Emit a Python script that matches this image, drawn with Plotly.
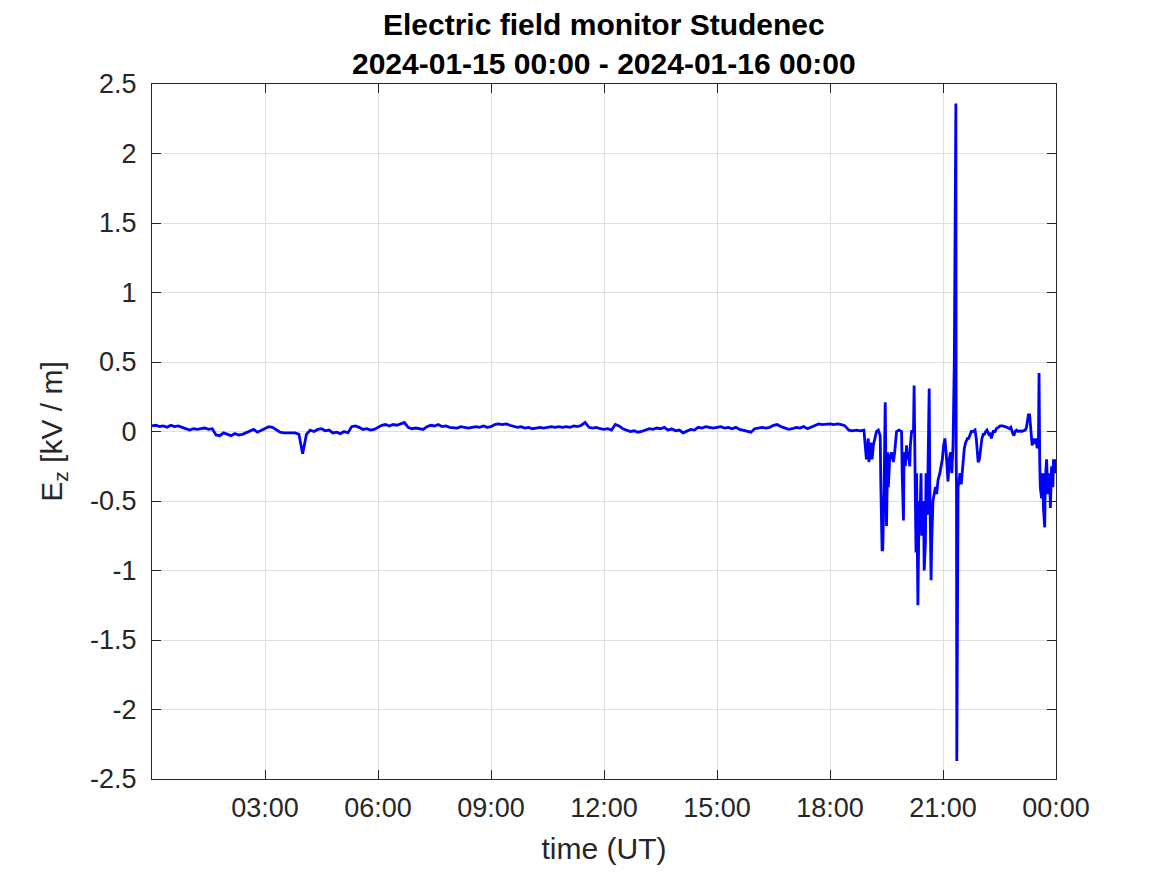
import plotly.graph_objects as go
import pandas as pd

# ---- data ----
day_start = "2024-01-15 00:00"
day_end = "2024-01-16 00:00"

# quiet period, one value every 6 minutes from 00:00 to 18:54 (kV/m)
quiet_values = [
    0.04, 0.045, 0.035, 0.04, 0.03, 0.045, 0.035, 0.04, 0.03, 0.02,
    0.01, 0.02, 0.015, 0.02, 0.025, 0.015, 0.02, -0.025, -0.03, -0.01,
    -0.02, -0.03, -0.015, -0.025, -0.02, -0.01, 0.0, 0.015, -0.005, 0.01,
    0.02, 0.035, 0.03, 0.01, -0.005, -0.01, -0.01, -0.005, -0.01, -0.02,
    -0.16, -0.02, 0.01, 0.0, 0.015, 0.02, 0.005, 0.01, -0.01, -0.005,
    -0.015, 0.0, -0.01, 0.035, 0.04, 0.03, 0.015, 0.02, 0.01, 0.015,
    0.03, 0.045, 0.05, 0.04, 0.05, 0.045, 0.055, 0.065, 0.03, 0.02,
    0.025, 0.02, 0.015, 0.035, 0.045, 0.04, 0.05, 0.035, 0.04, 0.03,
    0.03, 0.025, 0.035, 0.03, 0.025, 0.03, 0.035, 0.03, 0.04, 0.03,
    0.035, 0.05, 0.055, 0.05, 0.055, 0.045, 0.04, 0.03, 0.035, 0.025,
    0.03, 0.02, 0.025, 0.03, 0.025, 0.03, 0.035, 0.03, 0.035, 0.03,
    0.035, 0.03, 0.04, 0.035, 0.045, 0.065, 0.03, 0.025, 0.03, 0.02,
    0.015, 0.02, 0.01, 0.05, 0.04, 0.02, 0.01, 0.0, 0.005, -0.005,
    0.0, 0.01, 0.02, 0.015, 0.025, 0.02, 0.03, 0.01, 0.02, 0.005,
    0.01, -0.01, 0.005, 0.015, 0.01, 0.03, 0.025, 0.035, 0.03, 0.025,
    0.03, 0.035, 0.025, 0.03, 0.02, 0.03, 0.015, 0.01, 0.005, -0.005,
    0.02, 0.025, 0.03, 0.025, 0.03, 0.045, 0.05, 0.035, 0.025, 0.015,
    0.02, 0.03, 0.025, 0.035, 0.02, 0.03, 0.045, 0.055, 0.05, 0.055,
    0.055, 0.05, 0.055, 0.05, 0.04, 0.01, 0.005, 0.01, 0.005, 0.01,
]
quiet_step_minutes = 6

# disturbed period (time of day, kV/m)
active_times = [
    "18:58:00", "19:01:00", "19:02:00", "19:05:00", "19:07:00", "19:09:00", "19:12:00", "19:14:00",
    "19:17:00", "19:20:00", "19:21:00", "19:23:00", "19:24:00", "19:26:00", "19:28:00", "19:30:00",
    "19:32:00", "19:33:00", "19:35:00", "19:38:00", "19:41:00", "19:43:00", "19:46:00", "19:50:00",
    "19:54:00", "19:55:00", "19:57:00", "19:58:00", "20:00:00", "20:02:00", "20:04:00", "20:05:00",
    "20:07:00", "20:08:00", "20:10:00", "20:13:00", "20:14:00", "20:16:00", "20:17:00", "20:18:00",
    "20:20:00", "20:22:00", "20:23:00", "20:25:00", "20:26:00", "20:29:00", "20:30:00", "20:32:00",
    "20:33:00", "20:35:00", "20:36:00", "20:38:00", "20:39:00", "20:41:00", "20:42:00", "20:44:00",
    "20:46:00", "20:48:00", "20:50:00", "20:52:00", "20:55:00", "20:57:00", "20:59:00", "21:01:00",
    "21:03:00", "21:05:00", "21:07:00", "21:08:00", "21:10:00", "21:12:00", "21:14:00", "21:16:00",
    "21:18:00", "21:19:00", "21:19:30", "21:20:30", "21:21:00", "21:21:30", "21:22:00", "21:23:00",
    "21:24:00", "21:26:00", "21:27:00", "21:29:00", "21:31:00", "21:32:00", "21:34:00", "21:36:00",
    "21:39:00", "21:41:00", "21:43:00", "21:45:00", "21:48:00", "21:51:00", "21:53:00", "21:56:00",
    "21:58:00", "22:00:00", "22:02:00", "22:04:00", "22:06:00", "22:08:00", "22:10:00", "22:13:00",
    "22:15:00", "22:17:00", "22:20:00", "22:23:00", "22:25:00", "22:28:00", "22:31:00", "22:35:00",
    "22:39:00", "22:42:00", "22:46:00", "22:48:00", "22:51:00", "22:53:00", "22:55:00", "22:57:00",
    "23:00:00", "23:03:00", "23:05:00", "23:08:00", "23:11:00", "23:13:00", "23:15:00", "23:16:00",
    "23:18:00", "23:20:00", "23:22:00", "23:24:00", "23:26:00", "23:28:00", "23:30:00", "23:32:00",
    "23:33:00", "23:34:00", "23:35:00", "23:37:00", "23:39:00", "23:40:00", "23:42:00", "23:43:00",
    "23:45:00", "23:47:00", "23:48:00", "23:50:00", "23:51:00", "23:53:00", "23:55:00", "23:56:00",
    "23:58:00", "23:59:50",
]
active_values = [
    -0.2, -0.05, -0.22, -0.08, -0.2, -0.1, -0.05, 0.0,
    0.01, -0.03, -0.4, -0.86, -0.85, -0.45, 0.21, -0.68,
    -0.15, -0.4, -0.2, -0.15, -0.22, -0.15, 0.0, 0.01,
    0.0, -0.3, -0.64, -0.15, -0.25, -0.1, -0.2, -0.15,
    -0.25, -0.1, 0.0, 0.0, 0.33, -0.5, -0.87, -0.3,
    -1.25, -0.5, -0.7, -0.3, -0.75, -0.5, -1.0, -0.8,
    -0.3, -0.6, -0.2, 0.31, -0.4, -1.07, -0.8, -0.5,
    -0.45, -0.4, -0.45, -0.35, -0.3, -0.25, -0.2, -0.1,
    -0.05, -0.15, -0.25, -0.36, -0.2, -0.15, -0.3, -0.1,
    0.5, 1.7, 2.35, 2.36, -0.2, -0.4, -2.37, -1.4,
    -0.4, -0.35, -0.3, -0.38, -0.25, -0.2, -0.12, -0.08,
    -0.05, -0.05, -0.02, 0.0, 0.0, 0.01, -0.05, -0.22,
    -0.2, -0.12, -0.05, -0.02, -0.02, 0.0, 0.01, -0.02,
    -0.01, -0.05, 0.0, 0.0, 0.02, 0.03, 0.04, 0.04,
    0.035, 0.03, 0.02, 0.03, -0.01, -0.03, 0.0, 0.01,
    0.0, 0.005, 0.0, 0.005, 0.01, 0.03, 0.08, 0.12,
    0.12, 0.03, -0.1, -0.05, -0.09, -0.05, -0.12, -0.1,
    0.42, -0.2, -0.4, -0.48, -0.3, -0.55, -0.69, -0.35,
    -0.2, -0.45, -0.4, -0.3, -0.55, -0.25, -0.4, -0.2,
    -0.3, -0.2,
]

title_lines = ["Electric field monitor Studenec", "2024-01-15 00:00 - 2024-01-16 00:00"]
y_tick_values = [2.5, 2, 1.5, 1, 0.5, 0, -0.5, -1, -1.5, -2, -2.5]
y_tick_labels = ["2.5", "2", "1.5", "1", "0.5", "0", "-0.5", "-1", "-1.5", "-2", "-2.5"]
x_tick_times = ["2024-01-15 03:00", "2024-01-15 06:00", "2024-01-15 09:00", "2024-01-15 12:00",
                "2024-01-15 15:00", "2024-01-15 18:00", "2024-01-15 21:00", "2024-01-16 00:00"]
x_tick_labels = ["03:00", "06:00", "09:00", "12:00", "15:00", "18:00", "21:00", "00:00"]

# ---- build series ----
t0 = pd.Timestamp(day_start)
quiet_t = [t0 + pd.Timedelta(minutes=quiet_step_minutes * i) for i in range(len(quiet_values))]
active_t = [t0 + pd.Timedelta(s) for s in active_times]
times = quiet_t + active_t
values = quiet_values + active_values

FONT = "Liberation Sans, Arial, sans-serif"
AX = "#262626"

fig = go.Figure()
fig.add_trace(go.Scatter(x=times, y=values, mode="lines",
                         line=dict(color="#0000ff", width=2.8), showlegend=False))

axis_common = dict(
    showline=True, linecolor=AX, linewidth=1, mirror="allticks",
    ticks="inside", ticklen=9, tickcolor=AX, tickwidth=1,
    showgrid=True, gridcolor="#dfdfdf", gridwidth=1, zeroline=False,
    tickfont=dict(family=FONT, size=27, color=AX),
)

fig.update_xaxes(
    type="date", range=[day_start, day_end],
    tickvals=x_tick_times, ticktext=x_tick_labels, ticklabelstandoff=5,
    title=dict(text="time (UT)", font=dict(family=FONT, size=30, color=AX), standoff=15),
    **axis_common,
)
fig.update_yaxes(
    range=[-2.5, 2.5], tickvals=y_tick_values, ticktext=y_tick_labels, ticklabelstandoff=9,
    title=dict(text="E<sub>z</sub> [kV / m]", font=dict(family=FONT, size=30, color=AX), standoff=18),
    **axis_common,
)

fig.update_layout(
    width=1167, height=875,
    margin=dict(l=144, r=119, t=76, b=104),
    paper_bgcolor="white", plot_bgcolor="white",
)

fig.add_annotation(
    text="<b>" + title_lines[0] + "</b><br><b>" + title_lines[1] + "</b>",
    xref="paper", yref="paper", x=0.5, y=1.058, xanchor="center", yanchor="middle",
    showarrow=False, font=dict(family=FONT, size=30, color="black"),
)

fig.write_html("out.html")
